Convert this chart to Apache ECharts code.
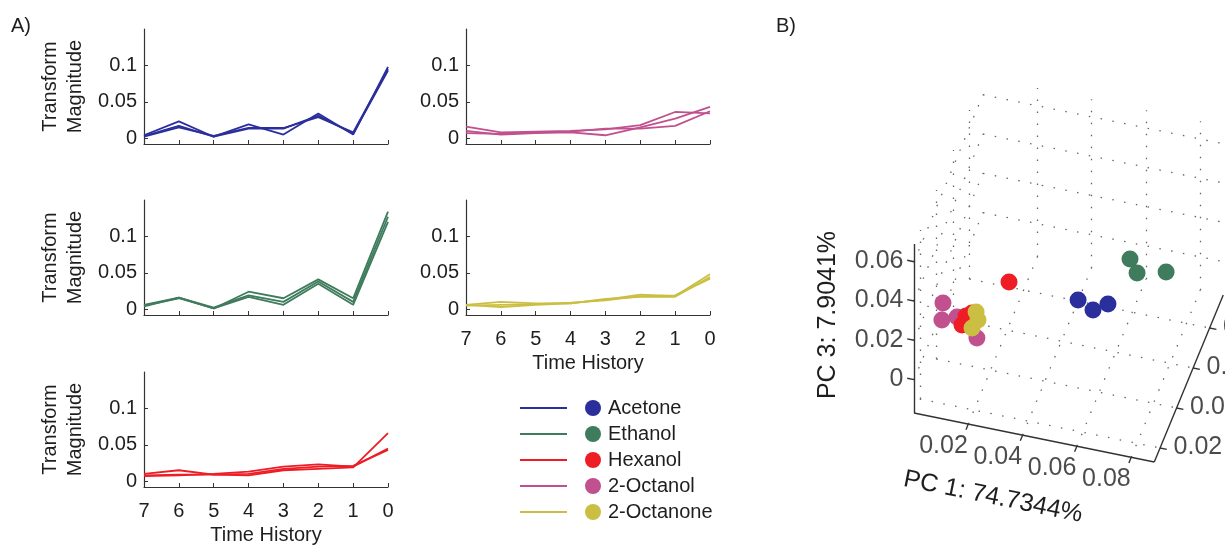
<!DOCTYPE html>
<html>
<head>
<meta charset="utf-8">
<script src="https://cdn.jsdelivr.net/npm/echarts@6/dist/echarts.min.js"></script>
<style>
html, body { margin: 0; padding: 0; background: #fff; }
#chart { width: 1225px; height: 545px; }
</style>
</head>
<body>
<div id="chart"></div>
<script>
const FONT = '"Liberation Sans", Arial, sans-serif';
const TXT = '#1e1e1e';
const AX = '#333';

const odorNames = ['Acetone', 'Ethanol', 'Hexanol', '2-Octanol', '2-Octanone'];
const odorColors = ['#2b2f9c', '#3f7b5d', '#ee1d25', '#c1508e', '#cbbf43'];

// ---- panel A : transform magnitude over time history ----
const timeSteps = [7, 6, 5, 4, 3, 2, 1, 0];
const magTicks = [0, 0.05, 0.1];

const acetoneTraces = [
    [0.004, 0.023, 0.002, 0.019, 0.005, 0.034, 0.005, 0.098],
    [0.002, 0.015, 0.003, 0.014, 0.014, 0.029, 0.008, 0.095],
    [0.003, 0.017, 0.002, 0.013, 0.013, 0.031, 0.006, 0.093]
];
const ethanolTraces = [
    [0.006, 0.016, 0.001, 0.024, 0.015, 0.041, 0.015, 0.134],
    [0.004, 0.016, 0.002, 0.019, 0.010, 0.038, 0.010, 0.127],
    [0.005, 0.015, 0.001, 0.017, 0.006, 0.035, 0.006, 0.120]
];
const hexanolTraces = [
    [0.010, 0.015, 0.009, 0.008, 0.015, 0.017, 0.019, 0.066],
    [0.007, 0.008, 0.010, 0.013, 0.020, 0.023, 0.020, 0.045],
    [0.008, 0.009, 0.009, 0.010, 0.017, 0.020, 0.021, 0.043]
];
const octanolTraces = [
    [0.016, 0.008, 0.009, 0.010, 0.012, 0.018, 0.036, 0.034],
    [0.010, 0.005, 0.007, 0.008, 0.004, 0.015, 0.027, 0.043],
    [0.007, 0.006, 0.008, 0.009, 0.013, 0.013, 0.017, 0.037]
];
const octanoneTraces = [
    [0.006, 0.010, 0.008, 0.008, 0.013, 0.020, 0.018, 0.048],
    [0.006, 0.003, 0.006, 0.008, 0.014, 0.017, 0.017, 0.044],
    [0.005, 0.006, 0.007, 0.009, 0.012, 0.018, 0.019, 0.042]
];

// ---- panel B : PCA scores [PC1, PC2, PC3] ----
const pcAcetone = [[0.0507, 0.045, 0.0222], [0.0562, 0.045, 0.0187], [0.0617, 0.045, 0.0233]];
const pcEthanol = [[0.0683, 0.050, 0.0430], [0.0709, 0.050, 0.0366], [0.0816, 0.050, 0.0401]];
const pcHexanol = [[0.0162, 0.030, 0.0211], [0.0125, 0.030, 0.0140], [0.0140, 0.030, 0.0190], [0.0283, 0.035, 0.0352]];
const pcOctanol = [[0.0055, 0.030, 0.0232], [0.0051, 0.030, 0.0145], [0.0107, 0.030, 0.0176], [0.0180, 0.030, 0.0089]];
const pcOctanone = [[0.0184, 0.030, 0.0182], [0.0162, 0.030, 0.0135], [0.0177, 0.030, 0.0221]];

const pc1Ticks = [0.02, 0.04, 0.06, 0.08];
const pc2Ticks = [0.02, 0.04, 0.06, 0.08];
const pc3Ticks = [0, 0.02, 0.04, 0.06];
const pc1Range = [0, 0.0885];
const pc2Range = [0.013, 0.0965];
const pc3Range = [-0.017, 0.069];

// small multiples layout
const panels = [
    { traces: acetoneTraces, odor: 0, left: 144, top: 29, xLab: false, yName: true },
    { traces: octanolTraces, odor: 3, left: 466, top: 29, xLab: false, yName: false },
    { traces: ethanolTraces, odor: 1, left: 144, top: 200, xLab: false, yName: true },
    { traces: octanoneTraces, odor: 4, left: 466, top: 200, xLab: true, yName: false },
    { traces: hexanolTraces, odor: 2, left: 144, top: 372, xLab: true, yName: true }
];

// oblique projection for the 3-D view (pixel origin + pixels per unit)
const view = { ox: 914, oy: 413, p1: [2715, 553.7], p2: [826, -2000], p3: [0, -1965] };
function proj(a, b, c) {
    const da = a - pc1Range[0], db = b - pc2Range[0], dc = c - pc3Range[0];
    return [view.ox + da * view.p1[0] + db * view.p2[0] + dc * view.p3[0],
            view.oy + da * view.p1[1] + db * view.p2[1] + dc * view.p3[1]];
}

const grids = [], xAxes = [], yAxes = [], series = [];

panels.forEach((p, i) => {
    grids.push({ left: p.left, top: p.top, width: 244, height: 115, outerBoundsMode: 'none' });
    xAxes.push({
        gridIndex: i, type: 'value', min: 0, max: 7, interval: 1, inverse: true,
        axisLine: { onZero: false, lineStyle: { color: AX, width: 1.2 } },
        axisTick: { inside: true, length: 4, lineStyle: { color: AX } },
        axisLabel: { show: p.xLab, fontSize: 20, color: TXT, fontFamily: FONT, margin: 14 },
        splitLine: { show: false },
        name: p.xLab ? 'Time History' : '',
        nameLocation: 'middle', nameGap: 38,
        nameTextStyle: { fontSize: 20, color: TXT, fontFamily: FONT }
    });
    yAxes.push({
        gridIndex: i, type: 'value', min: -0.008, max: 0.15, position: 'left',
        axisLine: { show: true, onZero: false, lineStyle: { color: AX, width: 1.2 } },
        axisTick: { show: true, inside: true, length: 4, customValues: magTicks, lineStyle: { color: AX } },
        axisLabel: { fontSize: 20, color: TXT, fontFamily: FONT, margin: 7, customValues: magTicks,
            formatter: v => String(v) },
        splitLine: { show: false },
        name: p.yName ? 'Transform\nMagnitude' : '',
        nameLocation: 'middle', nameRotate: 90, nameGap: 56,
        nameTextStyle: { fontSize: 20, lineHeight: 25, color: TXT, fontFamily: FONT }
    });
    p.traces.forEach(tr => {
        series.push({
            type: 'line', name: odorNames[p.odor], xAxisIndex: i, yAxisIndex: i,
            data: timeSteps.map((t, k) => [t, tr[k]]),
            symbol: 'none', silent: true, animation: false,
            lineStyle: { color: odorColors[p.odor], width: 1.8 },
            itemStyle: { color: odorColors[p.odor] }
        });
    });
});

// panel B uses a pixel-space cartesian over the whole canvas
const B = panels.length;
grids.push({ left: 0, top: 0, width: 1225, height: 545, outerBoundsMode: 'none' });
xAxes.push({ gridIndex: B, type: 'value', min: 0, max: 1225, show: false });
yAxes.push({ gridIndex: B, type: 'value', min: 0, max: 545, inverse: true, show: false });

const [a0, a1] = pc1Range, [b0, b1] = pc2Range, [c0, c1] = pc3Range;
const gridSegs = [];
pc1Ticks.forEach(a => {
    gridSegs.push([proj(a, b0, c0), proj(a, b1, c0)]);   // floor
    gridSegs.push([proj(a, b1, c0), proj(a, b1, c1)]);   // back wall
});
pc2Ticks.forEach(b => {
    gridSegs.push([proj(a0, b, c0), proj(a1, b, c0)]);   // floor
    gridSegs.push([proj(a0, b, c0), proj(a0, b, c1)]);   // side wall
});
pc3Ticks.forEach(c => {
    gridSegs.push([proj(a0, b0, c), proj(a0, b1, c)]);   // side wall
    gridSegs.push([proj(a0, b1, c), proj(a1, b1, c)]);   // back wall
});

const axisSegs = [
    [proj(a0, b0, c0), proj(a0, b0, c1)],
    [proj(a0, b0, c0), proj(a1, b0, c0)],
    [proj(a1, b0, c0), proj(a1, b1, c0)]
];
pc3Ticks.forEach(c => axisSegs.push([proj(a0, b0, c), proj(a0 - 0.0025, b0, c)]));
pc1Ticks.forEach(a => axisSegs.push([proj(a, b0, c0), proj(a, b0 - 0.0028, c0)]));
pc2Ticks.forEach(b => axisSegs.push([proj(a1, b, c0), proj(a1 + 0.0025, b, c0)]));

series.push({
    type: 'lines', coordinateSystem: 'cartesian2d', xAxisIndex: B, yAxisIndex: B,
    data: gridSegs.map(s => ({ coords: s })), silent: true, animation: false, z: 1,
    lineStyle: { color: '#666', width: 1.3, type: [1.5, 10.5], opacity: 1 }
});
series.push({
    type: 'lines', coordinateSystem: 'cartesian2d', xAxisIndex: B, yAxisIndex: B,
    data: axisSegs.map(s => ({ coords: s })), silent: true, animation: false, z: 2,
    lineStyle: { color: AX, width: 1.4, opacity: 1 }
});

function tickLabels(points, align, vAlign, offset) {
    return {
        type: 'scatter', xAxisIndex: B, yAxisIndex: B, symbolSize: 1, silent: true, animation: false,
        itemStyle: { color: 'rgba(0,0,0,0)' },
        data: points,
        label: { show: true, position: [0, 0], formatter: '{b}', align: align, verticalAlign: vAlign,
            offset: offset, fontSize: 25, color: TXT, fontFamily: FONT },
        emphasis: { disabled: true }
    };
}
series.push(tickLabels(pc3Ticks.map(c => ({ name: String(c), value: proj(a0, b0, c) })), 'right', 'middle', [-10, 0]));
series.push(tickLabels(pc1Ticks.map(a => ({ name: String(a), value: proj(a, b0, c0) })), 'right', 'top', [0, 10]));
series.push(tickLabels(pc2Ticks.map(b => ({ name: String(b), value: proj(a1, b, c0) })), 'left', 'middle', [14, 0]));

const pcSets = [pcAcetone, pcEthanol, pcOctanol, pcHexanol, pcOctanone];
const pcOdor = [0, 1, 3, 2, 4];
pcSets.forEach((set, i) => {
    series.push({
        type: 'scatter', name: odorNames[pcOdor[i]], xAxisIndex: B, yAxisIndex: B,
        data: set.map(p => proj(p[0], p[1], p[2])),
        symbol: 'circle', symbolSize: 17, animation: false, z: 3,
        itemStyle: { color: odorColors[pcOdor[i]], opacity: 1 }
    });
});

const option = {
    backgroundColor: '#fff',
    animation: false,
    textStyle: { fontFamily: FONT },
    title: [
        { text: 'A)', left: 6, top: 11, textStyle: { fontSize: 20, fontWeight: 'normal', color: TXT, fontFamily: FONT } },
        { text: 'B)', left: 771, top: 11, textStyle: { fontSize: 20, fontWeight: 'normal', color: TXT, fontFamily: FONT } }
    ],
    legend: [
        {
            data: odorNames, orient: 'vertical', left: 515, top: 393, icon: 'rect',
            itemWidth: 47, itemHeight: 2, itemGap: 6, selectedMode: false,
            textStyle: { fontSize: 20, lineHeight: 20, color: 'rgba(0,0,0,0)', fontFamily: FONT }
        },
        {
            data: odorNames, orient: 'vertical', left: 580, top: 393, icon: 'circle',
            itemWidth: 16, itemHeight: 16, itemGap: 6, selectedMode: false,
            textStyle: { fontSize: 20, lineHeight: 20, color: TXT, fontFamily: FONT, padding: [0, 0, 0, 2] }
        }
    ],
    graphic: [
        { type: 'text', x: 828, y: 315, rotation: Math.PI / 2,
          style: { text: 'PC 3: 7.9041%', font: '25px ' + FONT, fill: TXT, align: 'center', verticalAlign: 'middle' } },
        { type: 'text', x: 993, y: 497, rotation: -0.2,
          style: { text: 'PC 1: 74.7344%', font: '25px ' + FONT, fill: TXT, align: 'center', verticalAlign: 'middle' } }
    ],
    grid: grids,
    xAxis: xAxes,
    yAxis: yAxes,
    series: series
};

const chart = echarts.init(document.getElementById('chart'));
chart.setOption(option);
</script>
</body>
</html>
